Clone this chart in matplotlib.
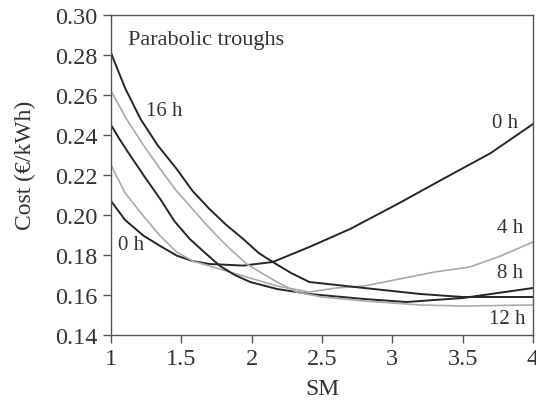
import matplotlib
matplotlib.use("Agg")
import matplotlib.pyplot as plt

plt.rcParams['font.family'] = ['Liberation Serif', 'DejaVu Serif']

# Data (SM vs cost in EUR/kWh)
sm_0h = [1.0, 1.1, 1.23, 1.35, 1.467, 1.58, 1.70, 1.94, 2.15, 2.41, 2.7, 3.05, 3.36, 3.7, 4.0]
cost_0h = [0.207, 0.1975, 0.1897, 0.1845, 0.1797, 0.177, 0.1755, 0.1747, 0.1765, 0.184, 0.193, 0.206, 0.218, 0.231, 0.2455]

sm_4h = [1.0, 1.1, 1.23, 1.35, 1.467, 1.58, 1.70, 1.94, 2.18, 2.41, 2.6, 2.8, 3.05, 3.3, 3.55, 3.77, 4.0]
cost_4h = [0.225, 0.211, 0.1995, 0.1895, 0.1815, 0.177, 0.1745, 0.1695, 0.1645, 0.1615, 0.1635, 0.1645, 0.168, 0.1715, 0.174, 0.1795, 0.1865]

sm_8h = [1.0, 1.06, 1.12, 1.24, 1.35, 1.45, 1.56, 1.67, 1.775, 1.88, 1.99, 2.18, 2.41, 2.8, 3.1, 3.5, 4.0]
cost_8h = [0.245, 0.238, 0.2315, 0.219, 0.208, 0.197, 0.188, 0.181, 0.1745, 0.170, 0.1665, 0.163, 0.1605, 0.158, 0.1565, 0.1585, 0.1635]

sm_12h = [1.0, 1.11, 1.23, 1.35, 1.46, 1.58, 1.68, 1.775, 1.87, 1.965, 2.07, 2.18, 2.32, 2.5, 2.8, 3.2, 3.5, 4.0]
cost_12h = [0.262, 0.248, 0.235, 0.223, 0.2125, 0.203, 0.195, 0.188, 0.1815, 0.1755, 0.171, 0.1665, 0.1615, 0.159, 0.157, 0.155, 0.1545, 0.155]

sm_16h = [1.0, 1.1, 1.21, 1.33, 1.467, 1.58, 1.70, 1.82, 1.94, 2.05, 2.15, 2.28, 2.41, 2.8, 3.2, 3.5, 4.0]
cost_16h = [0.281, 0.2635, 0.248, 0.235, 0.223, 0.212, 0.203, 0.195, 0.188, 0.181, 0.1765, 0.171, 0.1665, 0.1635, 0.1605, 0.159, 0.159]

x_ticks = [1, 1.5, 2, 2.5, 3, 3.5, 4]
x_tick_labels = ['1', '1.5', '2', '2.5', '3', '3.5', '4']
y_ticks = [0.14, 0.16, 0.18, 0.20, 0.22, 0.24, 0.26, 0.28, 0.30]
y_tick_labels = ['0.14', '0.16', '0.18', '0.20', '0.22', '0.24', '0.26', '0.28', '0.30']

DARK = '#262626'
GRAY = '#aaaaaa'
TXT = '#333333'

fig = plt.figure(figsize=(5.36, 4.06), dpi=100)
ax = fig.add_axes([111/536, 70/406, 422/536, 320/406])

ax.plot(sm_0h, cost_0h, color=DARK, lw=1.4)
ax.plot(sm_4h, cost_4h, color=GRAY, lw=1.2)
ax.plot(sm_8h, cost_8h, color=DARK, lw=1.4)
ax.plot(sm_12h, cost_12h, color=GRAY, lw=1.2)
ax.plot(sm_16h, cost_16h, color=DARK, lw=1.4)

ax.set_xlim(1, 4)
ax.set_ylim(0.14, 0.30)
ax.set_xticks(x_ticks)
ax.set_xticklabels(x_tick_labels)
ax.set_yticks(y_ticks)
ax.set_yticklabels(y_tick_labels)
ax.tick_params(direction='out', length=5.5, width=1, color='#555555',
               labelsize=17.5, labelcolor=TXT, pad=4)
for s in ax.spines.values():
    s.set_color('#555555')
    s.set_linewidth(1.0)

ax.set_xlabel('SM', fontsize=17, color=TXT, labelpad=6)
ax.set_ylabel('Cost (€/kWh)', fontsize=17, color=TXT)
ax.yaxis.set_label_coords(-0.178, 0.534)

ax.text(0.04, 0.922, 'Parabolic troughs', transform=ax.transAxes,
        fontsize=16, color=TXT, ha='left', va='center')

lab_kw = dict(fontsize=15, color=TXT, ha='center', va='center')
ax.text(1.38, 0.252, '16 h', **lab_kw)
ax.text(3.80, 0.246, '0 h', **lab_kw)
ax.text(3.84, 0.1935, '4 h', **lab_kw)
ax.text(3.84, 0.171, '8 h', **lab_kw)
ax.text(3.82, 0.148, '12 h', **lab_kw)
ax.text(1.14, 0.185, '0 h', **lab_kw)

fig.savefig('out.png', dpi=100)
